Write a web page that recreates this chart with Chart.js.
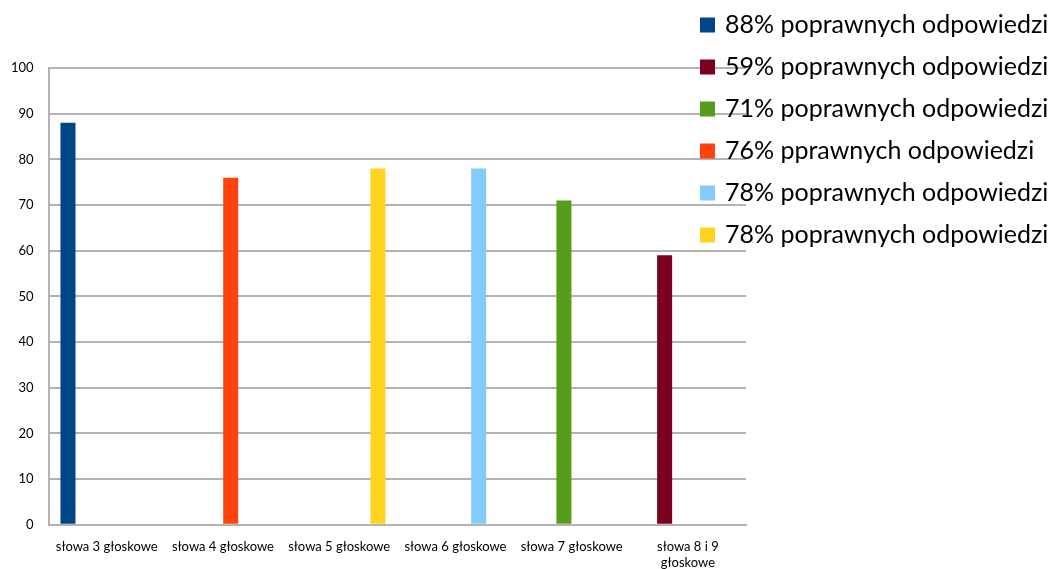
<!DOCTYPE html>
<html>
<head>
<meta charset="utf-8">
<script src="https://cdn.jsdelivr.net/npm/chart.js@4/dist/chart.umd.min.js"></script>
<style>
	html, body { margin: 0; padding: 0; background: #fff; }
	#wrap { width: 1053px; height: 569px; }
</style>
</head>
<body>
<div id="wrap"><canvas id="wykres" width="1053" height="569"></canvas></div>
<script>
var kategorie = ["słowa 3 głoskowe", "słowa 4 głoskowe", "słowa 5 głoskowe", "słowa 6 głoskowe",
		"słowa 7 głoskowe", ["słowa 8 i 9", "głoskowe"]];
var etykiety = ["88% poprawnych odpowiedzi", "59% poprawnych odpowiedzi", "71% poprawnych odpowiedzi",
		"76% pprawnych odpowiedzi", "78% poprawnych odpowiedzi", "78% poprawnych odpowiedzi"];
// kazda seria ma wartosc tylko w jednej kategorii
var seria1 = [88, null, null, null, null, null];
var seria2 = [null, null, null, null, null, 59];
var seria3 = [null, null, null, null, 71, null];
var seria4 = [null, 76, null, null, null, null];
var seria5 = [null, null, null, 78, null, null];
var seria6 = [null, null, 78, null, null, null];

var kolory = ["#004586", "#7e0021", "#579d1c", "#ff420e", "#83caff", "#ffd320"];
var serie = [seria1, seria2, seria3, seria4, seria5, seria6];
var szary = "#b3b3b3";

var datasets = [];
for (var i = 0; i < serie.length; i++) {
	datasets.push({
		label : etykiety[i],
		data : serie[i],
		backgroundColor : kolory[i],
		borderWidth : 0,
		categoryPercentage : 0.8,
		barPercentage : 0.97
	});
}

// legenda nachodzi na obszar wykresu, jak w oryginale
var legendaPlugin = {
	id : "legendaPoz",
	beforeLayout : function(chart) {
		var lg = chart.legend;
		if (lg && !lg._poz) {
			lg._poz = true;
			lg._layers = function() {
				return [ { z : 1, draw : function(area) { lg.draw(area); } } ];
			};
		}
	},
	afterLayout : function(chart) {
		var lg = chart.legend;
		lg.left = 685.5;
		lg.right = 1053;
		lg.top = -4.5;
		lg.bottom = 569;
	}
};

Chart.defaults.font.family = "Lato, 'DejaVu Sans', sans-serif";
Chart.defaults.color = "#000";

var ctx = document.getElementById('wykres').getContext('2d');
var chart = new Chart(ctx, {
	type : 'bar',
	data : {
		labels : kategorie,
		datasets : datasets
	},
	plugins : [ legendaPlugin ],
	options : {
		responsive : false,
		animation : false,
		layout : {
			padding : { top : 68, right : 7, left : -4, bottom : -16 }
		},
		plugins : {
			tooltip : { enabled : false },
			legend : {
				position : 'right',
				align : 'start',
				maxWidth : 300,
				labels : {
					boxWidth : 10,
					boxHeight : 10,
					padding : 17,
					color : "#000",
					font : { size : 25 },
					generateLabels : function(chart) {
						var items = Chart.defaults.plugins.legend.labels.generateLabels(chart);
						items.forEach(function(it) {
							it.lineWidth = 5;
							it.strokeStyle = it.fillStyle;
						});
						return items;
					}
				}
			}
		},
		scales : {
			x : {
				grid : {
					color : function(c) { return c.index === 6 ? szary : 'rgba(0,0,0,0)'; },
					lineWidth : 2,
					drawTicks : false
				},
				border : { color : szary, width : 2 },
				ticks : {
					font : { size : 13 },
					padding : 14.5,
					maxRotation : 0,
					autoSkip : false
				}
			},
			y : {
				min : 0,
				max : 100,
				ticks : {
					stepSize : 10,
					font : { size : 13 },
					padding : 15
				},
				grid : {
					color : szary,
					lineWidth : 2,
					drawTicks : false
				},
				border : { color : szary, width : 2 }
			}
		}
	}
});
</script>
</body>
</html>
